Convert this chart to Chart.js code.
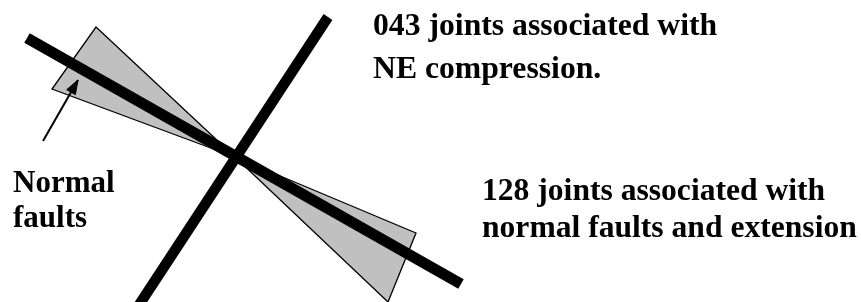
<!DOCTYPE html>
<html lang="en">
<head>
<meta charset="UTF-8">
<title>Joint sets and normal faults</title>
<script src="https://cdn.jsdelivr.net/npm/chart.js"></script>
<style>
    html, body { margin: 0; padding: 0; background: #fff; }
    .chart-box { position: relative; width: 861px; height: 302px; }
</style>
</head>
<body>
<div class="chart-box">
    <canvas id="sketch"></canvas>
</div>
<script>
// geometry (pixel-like units, y grows downward)
const faultLineX = [27, 461];
const faultLineY = [38, 284];
const jointLineX = [328, 139];
const jointLineY = [17, 305];
const wedgeNWX = [235, 96, 52, 235];
const wedgeNWY = [157, 27, 89, 157];
const wedgeSEX = [235, 416, 388, 235];
const wedgeSEY = [157, 233, 302, 157];
const arrowX = [43, 78];
const arrowY = [141, 80];

const topLabel = ['043 joints associated with', 'NE compression.'];
const bottomLabel = ['128 joints associated with', 'normal faults and extension'];
const leftLabel = ['Normal', 'faults'];

function pts(xs, ys) {
    return xs.map((x, i) => ({ x: x, y: ys[i] }));
}

// arrow head built from the arrow's last segment
function arrowHead(xs, ys, len, half) {
    const n = xs.length - 1;
    const dx = xs[n] - xs[n - 1], dy = ys[n] - ys[n - 1];
    const d = Math.hypot(dx, dy);
    const ux = dx / d, uy = dy / d;
    const bx = xs[n] - ux * len, by = ys[n] - uy * len;
    return [
        { x: xs[n], y: ys[n] },
        { x: bx - uy * half, y: by + ux * half },
        { x: bx + uy * half, y: by - ux * half },
        { x: xs[n], y: ys[n] }
    ];
}

const textBlocks = [
    { lines: topLabel, x: 373, y: 35, step: 43, size: 31.7 },
    { lines: bottomLabel, x: 482, y: 200, step: 37, size: 31.6 },
    { lines: leftLabel, x: 13, y: 192, step: 35, size: 31 }
];

const labelPlugin = {
    id: 'labels',
    afterDraw(chart) {
        const ctx = chart.ctx;
        const xs = chart.scales.x, ys = chart.scales.y;
        ctx.save();
        ctx.fillStyle = '#000';
        ctx.textBaseline = 'alphabetic';
        textBlocks.forEach(b => {
            ctx.font = 'bold ' + b.size + 'px "Liberation Serif", "Times New Roman", serif';
            b.lines.forEach((t, i) => {
                ctx.fillText(t, xs.getPixelForValue(b.x), ys.getPixelForValue(b.y + i * b.step));
            });
        });
        ctx.restore();
    }
};

const line = (data, width) => ({
    data: data, showLine: true, borderColor: '#000', borderWidth: width,
    borderCapStyle: 'butt', pointRadius: 0, fill: false, tension: 0
});
const wedge = (data) => ({
    data: data, showLine: true, borderColor: '#000', borderWidth: 1.3,
    backgroundColor: '#c0c0c0', borderJoinStyle: 'miter', pointRadius: 0, fill: 'shape', tension: 0
});

new Chart(document.getElementById('sketch'), {
    type: 'scatter',
    data: {
        datasets: [
            line(pts(faultLineX, faultLineY), 11),
            line(pts(jointLineX, jointLineY), 10.5),
            line(pts(arrowX, arrowY), 2),
            Object.assign(line(arrowHead(arrowX, arrowY, 14, 5), 1), { fill: 'shape', backgroundColor: '#000' }),
            wedge(pts(wedgeNWX, wedgeNWY)),
            wedge(pts(wedgeSEX, wedgeSEY))
        ]
    },
    options: {
        responsive: true,
        maintainAspectRatio: false,
        animation: false,
        layout: { padding: 0 },
        plugins: { legend: { display: false }, tooltip: { enabled: false } },
        scales: {
            x: { type: 'linear', min: 0, max: 861, display: false },
            y: { type: 'linear', min: 0, max: 302, reverse: true, display: false }
        }
    },
    plugins: [labelPlugin]
});
</script>
</body>
</html>
